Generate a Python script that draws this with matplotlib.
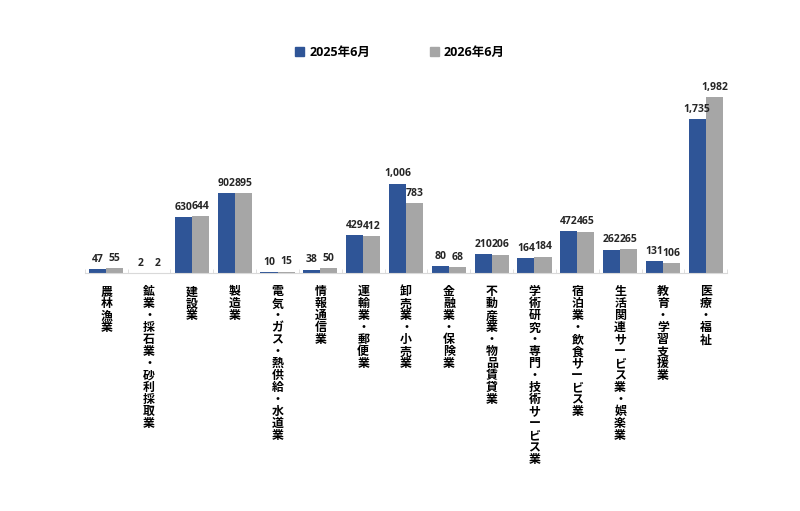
import numpy as np
import matplotlib
matplotlib.use('Agg')
import matplotlib.pyplot as plt
from matplotlib.patches import Patch

# Industries and job counts (June 2025 vs June 2026)
categories = ['農林漁業', '鉱業・採石業・砂利採取業', '建設業', '製造業',
              '電気・ガス・熱供給・水道業', '情報通信業', '運輸業・郵便業',
              '卸売業・小売業', '金融業・保険業', '不動産業・物品賃貸業',
              '学術研究・専門・技術サービス業', '宿泊業・飲食サービス業',
              '生活関連サービス業・娯楽業', '教育・学習支援業', '医療・福祉']
series_labels = ['2025年6月', '2026年6月']
values_2025 = [47, 2, 630, 902, 10, 38, 429, 1006, 80, 210, 164, 472, 262, 131, 1735]
values_2026 = [55, 2, 644, 895, 15, 50, 412, 783, 68, 206, 184, 465, 265, 106, 1982]

blue = '#2F5597'
gray = '#A6A6A6'
num_font = ['Open Sans', 'Noto Sans CJK JP']
jp_font = ['Noto Sans CJK JP', 'DejaVu Sans']

fig = plt.figure(figsize=(8, 5.11), dpi=100)
ax = fig.add_axes([0.106, 0.466, 0.803, 0.382])

x = np.arange(len(categories))
w = 0.4
bars1 = ax.bar(x - w / 2, values_2025, w, color=blue)
bars2 = ax.bar(x + w / 2, values_2026, w, color=gray)

for bars in (bars1, bars2):
    for b in bars:
        v = b.get_height()
        ax.annotate(f'{v:,}', (b.get_x() + b.get_width() / 2, v),
                    xytext=(0, 3), textcoords='offset points',
                    ha='center', va='bottom', fontsize=7.5, fontweight='bold',
                    color='#262626', family=num_font)

ax.set_xlim(-0.5, len(categories) - 0.5)
ax.set_ylim(0, 2200)

# vertical (tategaki) category labels
ax.set_xticks(x)
ax.set_xticklabels(['\n'.join(c) for c in categories], fontsize=8.6,
                   fontweight='bold', family=jp_font, va='top',
                   linespacing=0.9)
ax.tick_params(axis='x', length=0, pad=9)
ax.set_xticks(np.arange(-0.5, len(categories), 1), minor=True)
ax.tick_params(axis='x', which='minor', length=3, color='#D9D9D9', direction='in')

ax.set_yticks([])
for s in ['top', 'right', 'left']:
    ax.spines[s].set_visible(False)
ax.spines['bottom'].set_color('#D9D9D9')

handles = [Patch(color=blue), Patch(color=gray)]
fig.legend(handles, series_labels, loc='center', bbox_to_anchor=(0.5, 0.898),
           ncol=2, frameon=False, handlelength=0.7, handleheight=0.7,
           handletextpad=0.4, columnspacing=4.8,
           prop={'family': num_font, 'weight': 'bold', 'size': 9})

fig.savefig('out.png', dpi=100)
